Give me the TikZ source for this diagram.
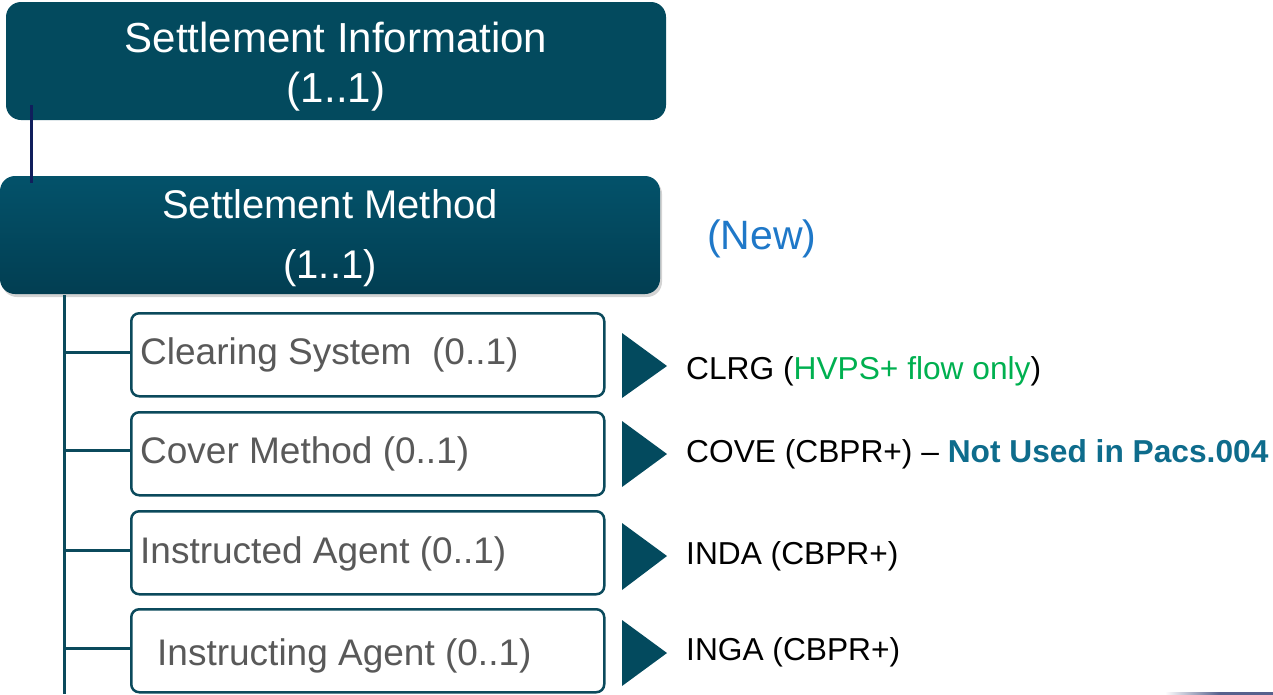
\documentclass[tikz,border=0pt]{standalone}
\usepackage{fontspec}
\setmainfont{Liberation Sans}
\usetikzlibrary{shadows,calc}
\definecolor{boxfill}{RGB}{3,74,94}
\definecolor{boxtop}{RGB}{3,82,106}
\definecolor{boxbot}{RGB}{2,62,82}
\definecolor{navyline}{RGB}{16,30,92}
\definecolor{trunk}{RGB}{11,74,92}
\definecolor{greytext}{RGB}{89,89,89}
\definecolor{greentext}{RGB}{0,176,80}
\definecolor{tealbold}{RGB}{14,108,140}
\definecolor{newblue}{RGB}{31,120,200}
\definecolor{tri}{RGB}{3,74,94}
\tikzset{
  parentbox/.style={rectangle, rounded corners=15pt, minimum width=660pt, minimum height=118pt, inner sep=0pt},
  parenttext/.style={text=white, align=center, inner sep=0pt},
  childbox/.style={rectangle, rounded corners=8pt, draw=trunk, line width=2.5pt, fill=white, minimum width=473pt, minimum height=83pt, inner sep=0pt, anchor=north west},
  childtext/.style={anchor=west, text=greytext, inner sep=0pt, font=\fontsize{37}{40}\selectfont},
  codetext/.style={anchor=west, text=black, inner sep=0pt, font=\fontsize{31.7}{34}\selectfont},
  tree/.style={draw=trunk, line width=3pt},
  trimark/.style={fill=tri}
}
\begin{document}
\begin{tikzpicture}[x=1pt,y=-1pt]
\useasboundingbox (0,0) rectangle (1273,694);

% top box
\node[parentbox, fill=boxfill] (si) at (336,61) {};
\node[parenttext, font=\fontsize{42}{50}\selectfont] (sit) at ($(si.center)+(0,6)$) {Settlement Information\\(1..1)};

% second box
\node[parentbox, top color=boxtop, bottom color=boxbot, drop shadow={shadow xshift=2pt, shadow yshift=-3pt, opacity=0.35}] (sm) at (330,235) {};
\node[parenttext, font=\fontsize{40}{60}\selectfont] (smt) at ($(sm.center)+(0,3)$) {Settlement Method\\(1..1)};

% link between top boxes
\coordinate (la) at ($(si.south west)+(26,-15)$);
\coordinate (lb) at ($(sm.north west)+(32,7)$);
\draw[navyline, line width=3pt] (la) -- (lb);

% child boxes
\node[childbox] (cs) at (130,312) {};
\node[childbox] (cm) at (130,411) {};
\node[childbox] (ia) at (130,510) {};
\node[childbox] (ig) at (130,608) {};

\node[childtext] (cst) at ($(cs.west)+(10,0)$) {Clearing System\ \ (0..1)};
\node[childtext] (cmt) at ($(cm.west)+(10,0)$) {Cover Method (0..1)};
\node[childtext] (iat) at ($(ia.west)+(10,1)$) {Instructed Agent (0..1)};
\node[childtext] (igt) at ($(ig.west)+(27,5)$) {Instructing Agent (0..1)};

% tree
\coordinate (tt) at (64,295);
\coordinate (tb) at (64,694);
\draw[tree] (tt) -- (tb);
\draw[tree] (64,352) -- (cs.west |- 0,352);
\draw[tree] (64,450) -- (cm.west |- 0,450);
\draw[tree] (64,550) -- (ia.west |- 0,550);
\draw[tree] (64,648) -- (ig.west |- 0,648);

% triangles
\fill[trimark] (622,333) -- (667,366) -- (622,398) -- cycle;
\fill[trimark] (622,421) -- (667,454) -- (622,487) -- cycle;
\fill[trimark] (622,523) -- (667,556) -- (622,590) -- cycle;
\fill[trimark] (622,620) -- (667,653) -- (622,686) -- cycle;

% codes
\node[codetext] (c1) at (686,371) {CLRG (\textcolor{greentext}{HVPS+ flow only})};
\node[codetext] (c2) at (686,454) {COVE (CBPR+) -- \textcolor{tealbold}{\bfseries Not Used in Pacs.004}};
\node[codetext] (c3) at (686,556) {INDA (CBPR+)};
\node[codetext] (c4) at (686,652) {INGA (CBPR+)};

% new
\node[anchor=west, text=newblue, inner sep=0pt, font=\fontsize{41}{44}\selectfont] (new) at (707,239) {(New)};

% small edge line bottom right
\fill[left color=white, right color=navyline!70, middle color=navyline!70] (1165,692.5) rectangle (1273,694);
\end{tikzpicture}
\end{document}
